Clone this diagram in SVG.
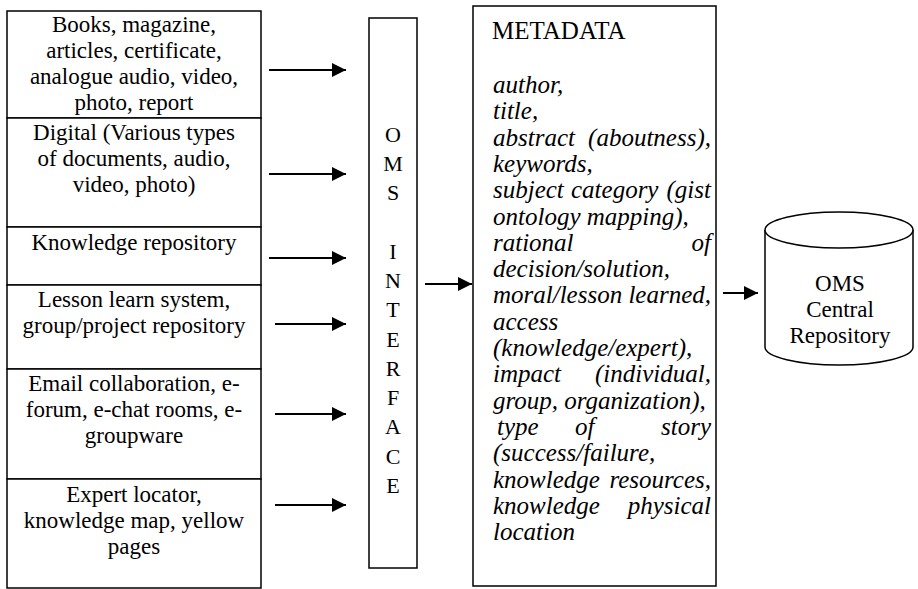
<svg xmlns="http://www.w3.org/2000/svg" width="918" height="589" viewBox="0 0 918 589">
<style>
.box{fill:#fff;stroke:#000;stroke-width:1.5}
.t{font-family:"Liberation Serif","Times New Roman",serif;font-size:23px;fill:#000;text-anchor:middle}
.v{font-family:"Liberation Serif","Times New Roman",serif;font-size:22px;fill:#000;text-anchor:middle}
.m{font-family:"Liberation Serif","Times New Roman",serif;font-size:25px;fill:#000;font-style:italic}
.e{text-anchor:end}
.h{font-family:"Liberation Serif","Times New Roman",serif;font-size:25px;fill:#000}
.c{stroke:#000;stroke-width:2;fill:none}
</style>
<defs>
<marker id="ah" markerUnits="userSpaceOnUse" markerWidth="14" markerHeight="14" refX="14" refY="7" orient="auto">
<path d="M0,0 L14,7 L0,14 z" fill="#000"/>
</marker>
</defs>
<rect width="918" height="589" fill="#fff"/>

<g id="src1">
<rect class="box" x="7" y="11" width="254" height="107"/>
<text class="t" x="134" y="32">Books, magazine,</text>
<text class="t" x="134" y="58">articles, certificate,</text>
<text class="t" x="134" y="84">analogue audio, video,</text>
<text class="t" x="134" y="110">photo, report</text>
</g>
<g id="src2">
<rect class="box" x="7" y="118" width="254" height="109"/>
<text class="t" x="134" y="140">Digital (Various types</text>
<text class="t" x="134" y="166">of documents, audio,</text>
<text class="t" x="134" y="192">video, photo)</text>
</g>
<g id="src3">
<rect class="box" x="7" y="227" width="254" height="58"/>
<text class="t" x="134" y="250">Knowledge repository</text>
</g>
<g id="src4">
<rect class="box" x="7" y="285" width="254" height="84"/>
<text class="t" x="134" y="307">Lesson learn system,</text>
<text class="t" x="134" y="333">group/project repository</text>
</g>
<g id="src5">
<rect class="box" x="7" y="369" width="254" height="110"/>
<text class="t" x="134" y="391">Email collaboration, e-</text>
<text class="t" x="134" y="417">forum, e-chat rooms, e-</text>
<text class="t" x="134" y="443">groupware</text>
</g>
<g id="src6">
<rect class="box" x="7" y="479" width="254" height="109"/>
<text class="t" x="134" y="502">Expert locator,</text>
<text class="t" x="134" y="528">knowledge map, yellow</text>
<text class="t" x="134" y="554">pages</text>
</g>

<g id="interface">
<rect class="box" x="369" y="18" width="48" height="550"/>
<text class="v" x="393" y="142">O</text>
<text class="v" x="393" y="171">M</text>
<text class="v" x="393" y="200">S</text>
<text class="v" x="393" y="259">I</text>
<text class="v" x="393" y="288">N</text>
<text class="v" x="393" y="317">T</text>
<text class="v" x="393" y="347">E</text>
<text class="v" x="393" y="376">R</text>
<text class="v" x="393" y="405">F</text>
<text class="v" x="393" y="434">A</text>
<text class="v" x="393" y="464">C</text>
<text class="v" x="393" y="493">E</text>
</g>

<g id="metadata">
<rect class="box" x="473" y="6" width="243" height="580"/>
<text class="h" x="492" y="39">METADATA</text>
<text class="m" x="493" y="93">author,</text>
<text class="m" x="493" y="119">title,</text>
<text class="m" x="493" y="146">abstract</text><text class="m e" x="711" y="146">(aboutness),</text>
<text class="m" x="493" y="172">keywords,</text>
<text class="m" x="493" y="198">subject</text><text class="m" x="571" y="198">category</text><text class="m e" x="711" y="198">(gist</text>
<text class="m" x="493" y="225">ontology mapping),</text>
<text class="m" x="493" y="251">rational</text><text class="m e" x="711" y="251">of</text>
<text class="m" x="493" y="277">decision/solution,</text>
<text class="m" x="493" y="303">moral/lesson learned,</text>
<text class="m" x="493" y="330">access</text>
<text class="m" x="493" y="356">(knowledge/expert),</text>
<text class="m" x="493" y="382">impact</text><text class="m e" x="711" y="382">(individual,</text>
<text class="m" x="493" y="409">group, organization),</text>
<text class="m" x="497" y="435">type</text><text class="m" x="575" y="435">of</text><text class="m e" x="711" y="435">story</text>
<text class="m" x="493" y="461">(success/failure,</text>
<text class="m" x="493" y="488">knowledge</text><text class="m e" x="711" y="488">resources,</text>
<text class="m" x="493" y="514">knowledge</text><text class="m e" x="711" y="514">physical</text>
<text class="m" x="493" y="540">location</text>
</g>

<g id="repository">
<path class="box" d="M765,230 L765,347 A74,18 0 0 0 913,347 L913,230"/>
<ellipse class="box" cx="839" cy="230" rx="74" ry="18"/>
<text class="t" x="840" y="291">OMS</text>
<text class="t" x="840" y="317">Central</text>
<text class="t" x="840" y="343">Repository</text>
</g>

<g id="connectors">
<line class="c" x1="269" y1="70" x2="346" y2="70" marker-end="url(#ah)"/>
<line class="c" x1="269" y1="174" x2="346" y2="174" marker-end="url(#ah)"/>
<line class="c" x1="269" y1="258" x2="346" y2="258" marker-end="url(#ah)"/>
<line class="c" x1="275" y1="324" x2="346" y2="324" marker-end="url(#ah)"/>
<line class="c" x1="275" y1="414" x2="346" y2="414" marker-end="url(#ah)"/>
<line class="c" x1="275" y1="505" x2="346" y2="505" marker-end="url(#ah)"/>
<line class="c" x1="425" y1="284" x2="472" y2="284" marker-end="url(#ah)"/>
<line class="c" x1="723" y1="293" x2="758" y2="293" marker-end="url(#ah)"/>
</g>
</svg>
